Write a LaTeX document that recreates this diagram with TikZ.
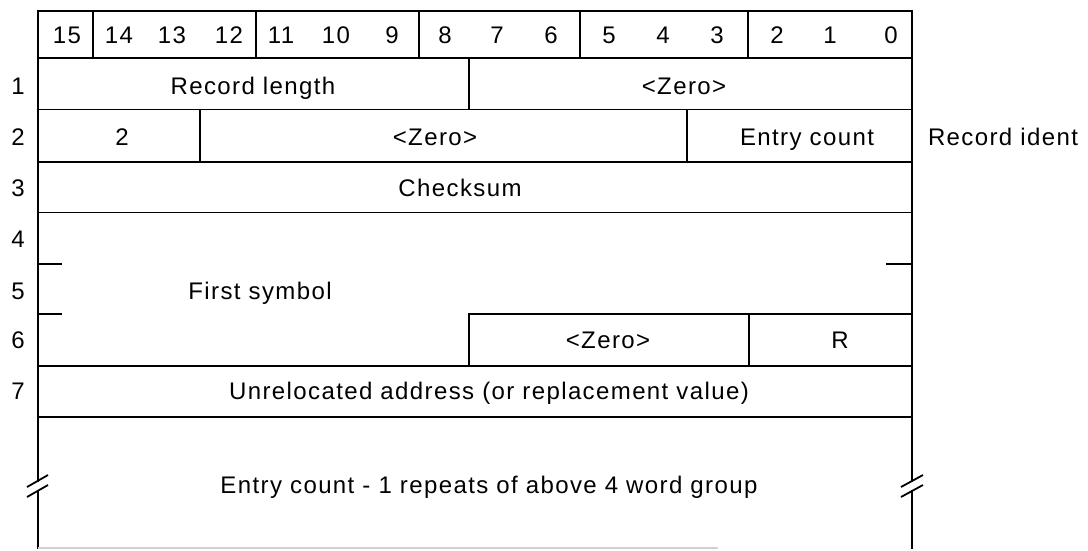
\documentclass[tikz,border=0pt]{standalone}
\usepackage{fontspec}
\setmainfont{Liberation Sans}[LetterSpace=5.8]
\begin{document}
\begin{tikzpicture}[x=1pt,y=-1pt,
  rule/.style={line width=1.8pt, line cap=rect},
  thin rule/.style={line width=1.4pt},
  tick/.style={line width=1.4pt},
  brk/.style={line width=1.8pt},
  lbl/.style={inner sep=0pt, anchor=base, font=\fontsize{24}{28}\selectfont},
  faint/.style={line width=1.2pt, draw=black!18}]
\useasboundingbox (0,0) rectangle (1088,550);
% outer frame
\draw[rule] (38,481) -- (38,11) -- (912,11) -- (912,481);
\draw[rule] (38,491) -- (38,548);
\draw[rule] (912,491) -- (912,548);
\draw[faint] (38,548) -- (718,548);
% break marks
\draw[brk] (27,487) -- (48,475);
\draw[brk] (27,497) -- (48,485);
\draw[brk] (901,487) -- (923,475);
\draw[brk] (901,497) -- (923,485);
% header
\draw[rule] (38,58) -- (912,58);
\foreach \x in {93,256,419,580,748} \draw[thin rule] (\x,11) -- (\x,58);
% rows
\draw[rule] (38,109.5) -- (912,109.5);
\draw[thin rule] (469,58) -- (469,109.5);
\draw[rule] (38,162) -- (912,162);
\draw[thin rule] (200,109.5) -- (200,162);
\draw[thin rule] (687,109.5) -- (687,162);
\draw[rule] (38,212.5) -- (912,212.5);
\draw[tick] (38,264) -- (62,264);
\draw[tick] (886,264) -- (912,264);
\draw[tick] (38,314) -- (62,314);
\draw[rule] (469,314) -- (912,314);
\draw[thin rule] (469,314) -- (469,366);
\draw[thin rule] (749,314) -- (749,366);
\draw[rule] (38,366) -- (912,366);
\draw[rule] (38,417) -- (912,417);
% header digits
\foreach \d/\x in {15/67,14/119,13/172,12/229,11/281,10/336,9/392,8/445,7/497,6/551,5/609,4/663,3/717,2/777,1/830,0/891}
  \node[lbl] (b\d) at (\x,43.5) {\d};
% row numbers
\foreach \r/\y in {1/94.5,2/145.5,3/196.5,4/247.5,5/299,6/348,7/399.5}
  \node[lbl] (r\r) at (18,\y) {\r};
% field texts
\node[lbl] (reclen) at (253,94.5) {Record length};
\node[lbl] (zero1) at (684,94.5) {<Zero>};
\node[lbl] (two) at (122,145.5) {2};
\node[lbl] (zero2) at (435,145.5) {<Zero>};
\node[lbl] (entry) at (807,145.5) {Entry count};
\node[lbl] (ident) at (1003,145.5) {Record ident};
\node[lbl] (chk) at (460,196.5) {Checksum};
\node[lbl] (first) at (260,299) {First symbol};
\node[lbl] (zero6) at (608,348) {<Zero>};
\node[lbl] (rbit) at (840,348) {R};
\node[lbl] (unrel) at (489,399.5) {Unrelocated address (or replacement value)};
\node[lbl] (rep) at (489,493) {Entry count - 1 repeats of above 4 word group};
\end{tikzpicture}
\end{document}
